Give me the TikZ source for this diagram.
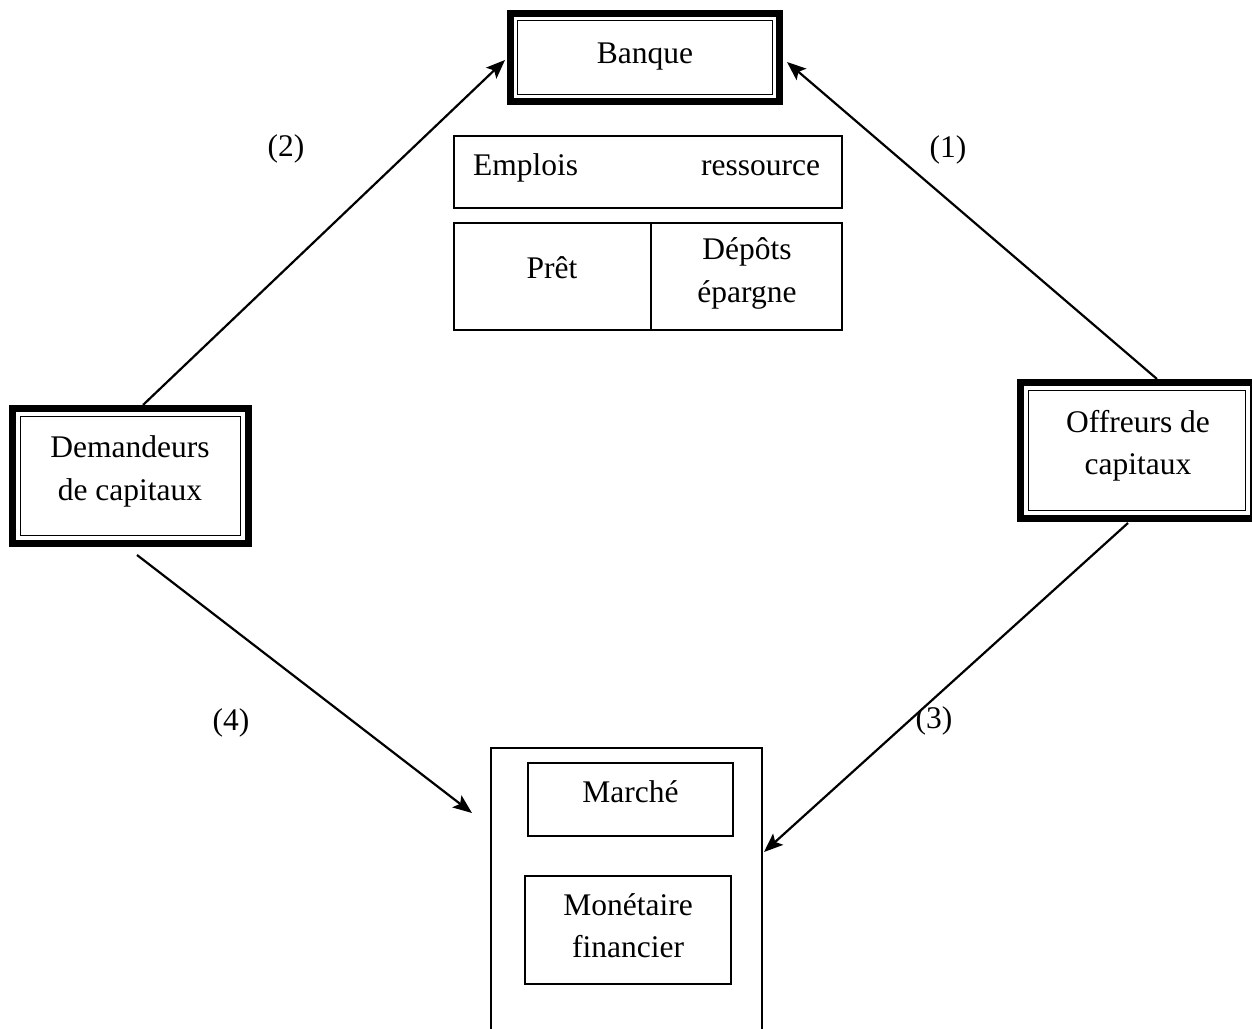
\documentclass[tikz,border=0pt]{standalone}
\usepackage{fontspec}
\setmainfont{Liberation Serif}
\usetikzlibrary{arrows.meta}
\begin{document}
\begin{tikzpicture}[x=1pt,y=-1pt,
  every node/.style={font=\fontsize{31.5}{42}\selectfont, inner sep=0pt, outer sep=0pt},
  heavy/.style={draw, line width=7pt},
  thinframe/.style={draw, line width=1.6pt},
  cell/.style={draw, line width=2pt},
  subcell/.style={draw, line width=1.8pt},
  txt/.style={anchor=base, align=center},
  arr/.style={line width=2.2pt, -{Stealth[length=19pt,width=15pt,inset=4pt]}},
  lbl/.style={anchor=base}]
\clip (0,0) rectangle (1252,1028);
\fill[white] (0,0) rectangle (1252,1028);

% Banque
\node[heavy, minimum width=269pt, minimum height=88pt] (banque) at (645,57.5) {};
\draw[thinframe] ([shift={(7,7)}]banque.north west) rectangle ([shift={(-7,-7)}]banque.south east);
\node[txt] (banquet) at (645,63) {Banque};

% Demandeurs
\node[heavy, minimum width=236pt, minimum height=135pt] (dem) at (130.5,476) {};
\draw[thinframe] ([shift={(8,8)}]dem.north west) rectangle ([shift={(-8,-8)}]dem.south east);
\node[txt] (demt1) at (130,457) {Demandeurs};
\node[txt] (demt2) at (130,500) {de capitaux};

% Offreurs
\node[heavy, minimum width=233pt, minimum height=136pt] (off) at (1137,450.5) {};
\draw[thinframe] ([shift={(8,8)}]off.north west) rectangle ([shift={(-8,-8)}]off.south east);
\node[txt] (offt1) at (1138,432) {Offreurs de};
\node[txt] (offt2) at (1138,474) {capitaux};

% Table
\node[cell, minimum width=388pt, minimum height=72pt] (head) at (648,172) {};
\node[anchor=base west] (emplois) at (473,175) {Emplois};
\node[anchor=base east] (ressource) at (820,175) {ressource};
\node[cell, minimum width=197pt, minimum height=107pt] (pret) at (552.5,276.5) {};
\node[cell, minimum width=191pt, minimum height=107pt] (depots) at (746.5,276.5) {};
\node[txt] (prett) at (552,278) {Prêt};
\node[txt] (dept1) at (747,259) {Dépôts};
\node[txt] (dept2) at (747,302) {épargne};

% Marché box (open at bottom)
\node[minimum width=271pt, minimum height=292pt] (mkt) at (626.5,894) {};
\draw[cell] (mkt.south west) -- (mkt.north west) -- (mkt.north east) -- (mkt.south east);
\node[subcell, minimum width=205pt, minimum height=73pt] (marche) at (630.5,799.5) {};
\node[txt] (marchet) at (630.5,802) {Marché};
\node[subcell, minimum width=206pt, minimum height=108pt] (monet) at (628,930) {};
\node[txt] (monett1) at (628,915) {Monétaire};
\node[txt] (monett2) at (628,957) {financier};

% Arrows
\draw[arr] ([shift={(12.5,-3.5)}]dem.north) -- ([shift={(-5.5,2.5)}]banque.west);
\draw[arr] ([shift={(20,-3.5)}]off.north) -- ([shift={(7.5,4.5)}]banque.east);
\draw[arr] ([shift={(6.5,11.5)}]dem.south) -- ([shift={(-19,65)}]mkt.north west);
\draw[arr] ([shift={(-9,4.5)}]off.south) -- ([shift={(2,104)}]mkt.north east);

% Labels
\node[lbl] (l2) at (286,156) {(2)};
\node[lbl] (l1) at (948,157) {(1)};
\node[lbl] (l4) at (231,730) {(4)};
\node[lbl] (l3) at (934,728) {(3)};
\end{tikzpicture}
\end{document}
